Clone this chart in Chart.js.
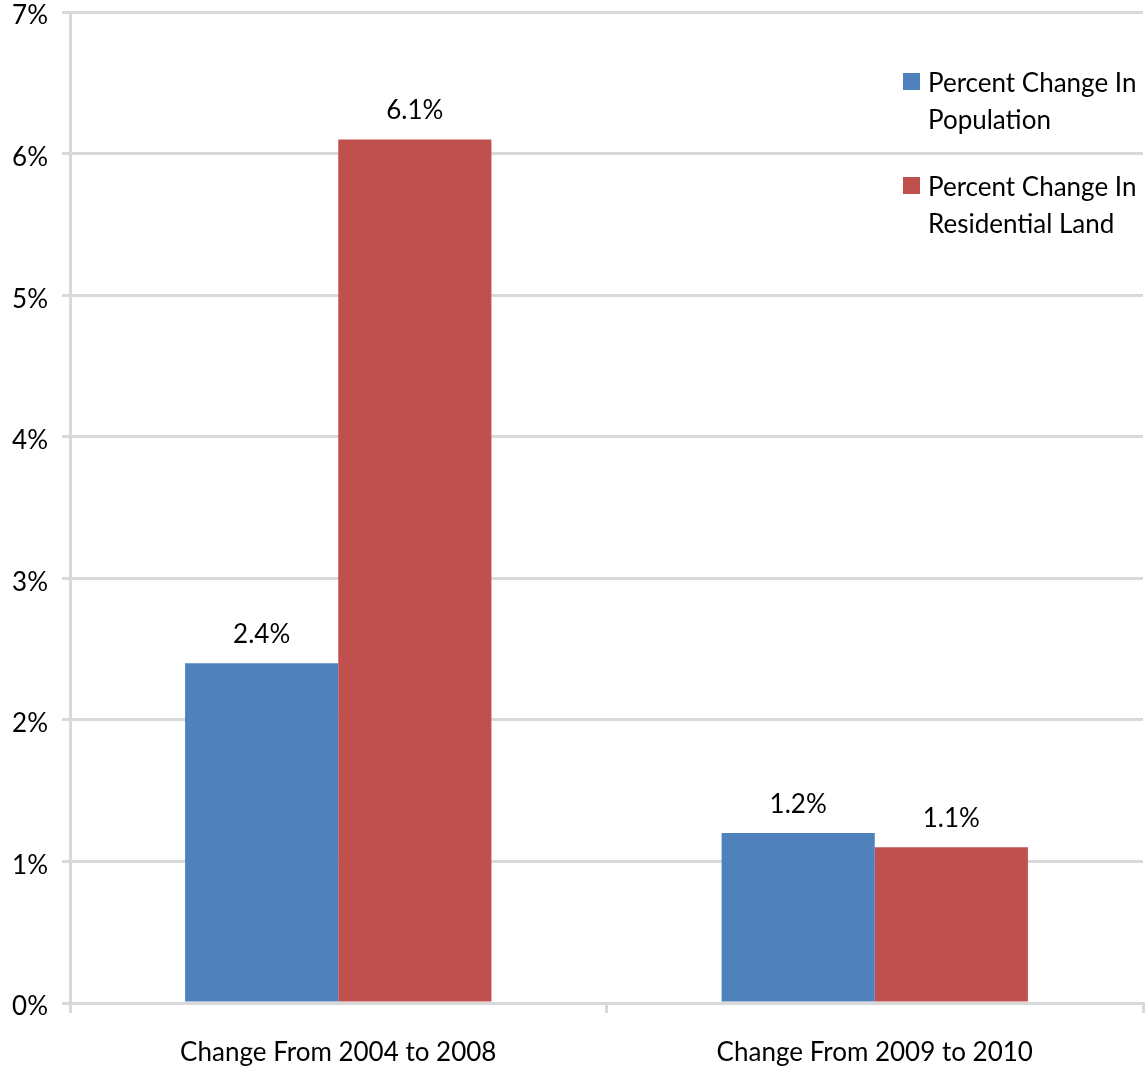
<!DOCTYPE html>
<html>
<head>
<meta charset="utf-8">
<script src="https://cdn.jsdelivr.net/npm/chart.js@4"></script>
<style>
html,body{margin:0;padding:0;background:#fff;}
#wrap{width:1147px;height:1071px;}
</style>
</head>
<body>
<div id="wrap"><canvas id="c" width="1147" height="1071"></canvas></div>
<script>
const categories = ["Change From 2004 to 2008", "Change From 2009 to 2010"];
const populationChange = [2.4, 1.2];
const residentialLandChange = [6.1, 1.1];
const seriesNames = [["Percent Change In", "Population"], ["Percent Change In", "Residential Land"]];
const yTicks = [0, 1, 2, 3, 4, 5, 6, 7];

const FONT = "Lato, 'Open Sans', sans-serif";
const FS = 26;
const colors = ["#4f81bd", "#c0504d"];

const labelPlugin = {
  id: 'barLabels',
  afterDatasetsDraw(chart) {
    const ctx = chart.ctx;
    ctx.save();
    ctx.font = FS + "px " + FONT;
    ctx.fillStyle = "#000";
    ctx.textAlign = "center";
    ctx.textBaseline = "middle";
    chart.data.datasets.forEach((ds, i) => {
      chart.getDatasetMeta(i).data.forEach((bar, j) => {
        ctx.fillText(ds.data[j].toFixed(1) + "%", bar.x, bar.y - 29);
      });
    });
    ctx.restore();
  }
};

const legendPlugin = {
  id: 'customLegend',
  afterDraw(chart) {
    const ctx = chart.ctx;
    ctx.save();
    ctx.font = FS + "px " + FONT;
    ctx.textBaseline = "middle";
    ctx.textAlign = "left";
    chart.data.datasets.forEach((ds, i) => {
      const y0 = 84 + i * 104;
      ctx.fillStyle = ds.backgroundColor;
      ctx.fillRect(903, y0 - 11, 17, 17);
      ctx.fillStyle = "#000";
      seriesNames[i].forEach((line, k) => {
        ctx.fillText(line, 928, y0 + k * 37);
      });
    });
    ctx.restore();
  }
};

new Chart(document.getElementById('c'), {
  type: 'bar',
  data: {
    labels: categories,
    datasets: [
      { label: seriesNames[0].join(' '), data: populationChange, backgroundColor: colors[0] },
      { label: seriesNames[1].join(' '), data: residentialLandChange, backgroundColor: colors[1] }
    ]
  },
  options: {
    responsive: false,
    animation: false,
    devicePixelRatio: 1,
    layout: { padding: { top: 12, right: 4, left: 0, bottom: 0 } },
    categoryPercentage: 0.571,
    barPercentage: 1.0,
    plugins: {
      legend: { display: false },
      tooltip: { enabled: false }
    },
    scales: {
      x: {
        offset: true,
        grid: { display: true, drawOnChartArea: false, drawTicks: true, tickLength: 10, color: "#d9d9d9", lineWidth: 3, offset: true },
        border: { color: "#d9d9d9", width: 3 },
        ticks: { color: "#000", font: { size: FS, family: FONT }, padding: 24 },
        afterFit(s) { s.height = 68; s.paddingLeft = 0; s.paddingRight = 0; }
      },
      y: {
        min: 0, max: 7,
        afterBuildTicks(s) { s.ticks = yTicks.map(v => ({ value: v })); },
        grid: { color: "#d9d9d9", lineWidth: 3, tickLength: 8 },
        border: { color: "#d9d9d9", width: 3 },
        ticks: { color: "#000", font: { size: FS, family: FONT }, padding: 14, labelOffset: 4, callback: v => v + "%" },
        afterFit(s) { s.width = 70; s.paddingTop = 0; s.paddingBottom = 0; }
      }
    }
  },
  plugins: [labelPlugin, legendPlugin]
});
</script>
</body>
</html>
